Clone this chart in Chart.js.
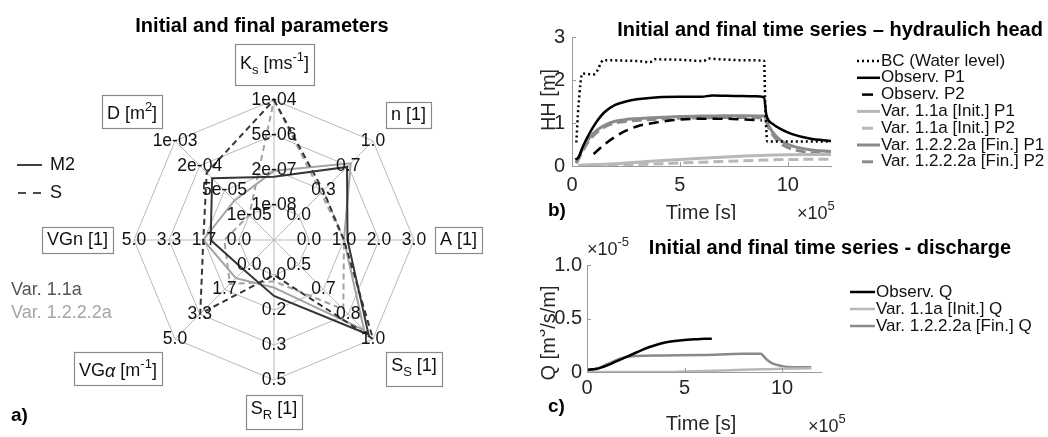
<!DOCTYPE html>
<html>
<head>
<meta charset="utf-8">
<script src="https://cdn.jsdelivr.net/npm/chart.js@4.4.1/dist/chart.umd.min.js"></script>
<style>
  html, body { margin: 0; padding: 0; background: #fff; }
  body { width: 1048px; height: 437px; position: relative; overflow: hidden; }
  canvas { position: absolute; }
  #radar { left: 0; top: 0; }
  #head { left: 540px; top: 0; }
  #flow { left: 540px; top: 220px; }
</style>
</head>
<body>
<canvas id="radar" width="540" height="437"></canvas>
<canvas id="head" width="508" height="220"></canvas>
<canvas id="flow" width="508" height="217"></canvas>
<script>
const FONT = '"Liberation Sans", Arial, Helvetica, sans-serif';
const TXT = "#262626";

// ---- parameter star: axes clockwise from the top ----
const axisTitles = [
  [["K", ""], ["s", "sub"], [" [ms", ""], ["-1", "sup"], ["]", ""]],
  [["n [1]", ""]],
  [["A [1]", ""]],
  [["S", ""], ["S", "sub"], [" [1]", ""]],
  [["S", ""], ["R", "sub"], [" [1]", ""]],
  [["VG", ""], ["α", "it"], [" [m", ""], ["-1", "sup"], ["]", ""]],
  [["VGn [1]", ""]],
  [["D [m", ""], ["2", "sup"], ["]", ""]],
];
const axisMin = [1e-8, 0, 0, 0.5, 0, 0, 0, 1e-5];
const axisMax = [1e-4, 1, 3, 1, 0.5, 5, 5, 1e-3];
const axisLog = [true, false, false, false, false, false, false, true];
const axisTicks = [
  ["1e-08", "2e-07", "5e-06", "1e-04"],
  ["0.0", "0.3", "0.7", "1.0"],
  ["0.0", "1.0", "2.0", "3.0"],
  ["0.5", "0.7", "0.8", "1.0"],
  ["0.0", "0.2", "0.3", "0.5"],
  ["0.0", "1.7", "3.3", "5.0"],
  ["0.0", "1.7", "3.3", "5.0"],
  ["1e-05", "5e-05", "2e-04", "1e-03"],
];

// parameter sets: Ks, n, A, S_S, S_R, VG alpha, VG n, D
const m2Init = [1.2e-7, 0.65, 1.1, 0.97, 0.1, 0.35, 1.35, 1e-4];
const m2Fin = [2e-7, 0.7, 1.0, 0.94, 0.06, 0.9, 1.7, 2.5e-5];
const sInit = [1e-4, 0.33, 1.0, 1.0, 0.0, 3.3, 1.7, 1.4e-4];
const sFin = [1e-4, 0.3, 1.0, 0.8, 0.03, 1.3, 0.7, 1e-5];

// ---- hydraulic head (time in 1e5 s, head in m) ----
const headXTicks = [0, 5, 10];
const headYTicks = [0, 1, 2, 3];
const bcT = [0.2, 0.3, 0.48, 1.0, 1.15, 1.45, 2.5, 3.3, 3.6, 3.85, 5.0, 6.1, 6.3, 6.6, 8.0, 8.9, 8.95, 9.05, 10.5, 12.0];
const bcH = [0.55, 1.4, 2.15, 2.13, 2.2, 2.46, 2.45, 2.43, 2.41, 2.48, 2.47, 2.44, 2.5, 2.49, 2.46, 2.45, 1.5, 0.57, 0.57, 0.57];
const obsP1T = [0.15, 0.3, 0.5, 0.8, 1.1, 1.5, 2.0, 2.5, 3.0, 4.0, 5.0, 6.0, 6.5, 7.5, 8.5, 8.9, 9.0, 9.3, 9.7, 10.2, 11.0, 12.0];
const obsP1H = [0.15, 0.2, 0.45, 0.75, 1.0, 1.25, 1.42, 1.5, 1.55, 1.6, 1.61, 1.61, 1.64, 1.63, 1.62, 1.6, 1.2, 0.98, 0.85, 0.74, 0.64, 0.58];
const obsP2T = [1.0, 1.5, 2.0, 2.5, 3.0, 4.0, 5.0, 6.0, 7.0, 8.0, 8.8];
const obsP2H = [0.28, 0.5, 0.68, 0.82, 0.92, 1.02, 1.08, 1.1, 1.1, 1.08, 1.06];
const initT = [0.3, 2.0, 4.0, 6.0, 8.0, 9.0, 10.0, 12.0];
const initP1H = [0.02, 0.05, 0.12, 0.18, 0.23, 0.25, 0.26, 0.27];
const initP2H = [0.0, 0.02, 0.05, 0.09, 0.12, 0.14, 0.15, 0.16];
const finT = [0.2, 0.5, 0.8, 1.2, 1.6, 2.0, 2.5, 3.0, 4.0, 5.0, 6.0, 7.0, 8.0, 8.9, 9.1, 9.4, 9.8, 10.3, 11.0, 12.0];
const finP1H = [0.08, 0.4, 0.65, 0.85, 0.97, 1.04, 1.08, 1.1, 1.13, 1.15, 1.16, 1.17, 1.17, 1.16, 0.95, 0.72, 0.55, 0.45, 0.38, 0.34];
const finP2H = [0.06, 0.35, 0.6, 0.8, 0.93, 1.0, 1.04, 1.06, 1.09, 1.11, 1.12, 1.13, 1.13, 1.12, 0.9, 0.66, 0.48, 0.38, 0.31, 0.27];

// ---- discharge (time in 1e5 s, Q in 1e-5 m3/s/m) ----
const flowXTicks = [0, 5, 10];
const flowYTicks = [0, 0.5, 1];
const obsQT = [0, 0.5, 1.0, 1.5, 2.0, 2.5, 3.0, 3.5, 4.0, 4.5, 5.0, 5.5, 6.0, 6.4];
const obsQ = [0.02, 0.03, 0.06, 0.1, 0.14, 0.18, 0.22, 0.25, 0.275, 0.29, 0.3, 0.305, 0.31, 0.31];
const initQT = [0, 2.0, 4.0, 5.0, 6.0, 8.0, 9.0, 10.0, 11.5];
const initQ = [0.0, 0.0, 0.0, 0.005, 0.01, 0.02, 0.025, 0.03, 0.035];
const finQT = [0, 0.5, 1.0, 1.5, 2.0, 2.5, 4.0, 6.0, 8.0, 8.9, 9.2, 9.5, 10.0, 10.5, 11.5];
const finQ = [0.02, 0.03, 0.07, 0.11, 0.14, 0.15, 0.155, 0.16, 0.17, 0.17, 0.12, 0.08, 0.055, 0.045, 0.045];

const DARK = "#363636";
const LIGHT = "#a2a2a2";
const INIT_GRAY = "#b8b8b8";
const FIN_GRAY = "#8a8a8a";
const GRID = "#b9b9b9";

// ---- text helpers (sub/superscripts, italic greek) ----
function partFont(mode, size, weight) {
  const s = (mode === "sup" || mode === "sub") ? Math.round(size * 0.74) : size;
  const style = mode === "it" ? "italic " : "";
  return style + weight + " " + s + "px " + FONT;
}
function measureRich(ctx, parts, size, weight) {
  let w = 0;
  for (const [t, m] of parts) { ctx.font = partFont(m, size, weight); w += ctx.measureText(t).width; }
  return w;
}
function drawRich(ctx, parts, x, y, size, opts = {}) {
  const weight = opts.weight || "normal";
  const w = measureRich(ctx, parts, size, weight);
  let cx = opts.align === "left" ? x : opts.align === "right" ? x - w : x - w / 2;
  ctx.fillStyle = opts.color || "#000";
  ctx.textBaseline = "middle";
  ctx.textAlign = "left";
  for (const [t, m] of parts) {
    ctx.font = partFont(m, size, weight);
    const dy = m === "sup" ? -size * 0.4 : m === "sub" ? size * 0.34 : 0;
    ctx.fillText(t, cx, y + dy);
    cx += ctx.measureText(t).width;
  }
  return w;
}
function pairs(xs, ys) { return xs.map((x, i) => ({ x: x, y: ys[i] })); }

// map a parameter value onto rings 1..4 of its own axis
function toRing(v, i) {
  const f = axisLog[i] ? Math.log10 : (a) => a;
  return 1 + 3 * (f(v) - f(axisMin[i])) / (f(axisMax[i]) - f(axisMin[i]));
}
function ringData(vals) { return vals.map((v, i) => toRing(v, i)); }

// ---- star chart decorations ----
const boxPad = [15, 18, 21, 18, 15, 18, 21, 18];
const dirX = [0, 1, 1, 1, 0, -1, -1, -1];
const dirY = [-1, -1, 0, 1, 1, 1, 0, -1];

const starDecor = {
  id: "starDecor",
  afterDatasetsDraw(chart) {
    const ctx = chart.ctx;
    const r = chart.scales.r;
    ctx.save();
    // per-axis tick labels sit on the ring corners
    ctx.font = "17.5px " + FONT;
    ctx.fillStyle = "#111";
    ctx.textAlign = "center";
    ctx.textBaseline = "middle";
    axisTicks.forEach((labels, i) => {
      labels.forEach((lab, k) => {
        const p = r.getPointPositionForValue(i, k + 1);
        ctx.fillText(lab, p.x, p.y);
      });
    });
    // boxed axis names
    axisTitles.forEach((parts, i) => {
      const hasSup = parts.some(p => p[1] === "sup");
      const hasSub = parts.some(p => p[1] === "sub");
      const tw = measureRich(ctx, parts, 18, "normal");
      const bw = Math.round(tw + 10);
      const bh = 26 + (hasSup ? 7 : 0) + (hasSub ? 8 : 0);
      const p = r.getPointPosition(i, r.drawingArea + boxPad[i]);
      const bx = Math.round(dirX[i] === 0 ? p.x - bw / 2 : dirX[i] > 0 ? p.x : p.x - bw);
      const by = Math.round(dirY[i] === 0 ? p.y - bh / 2 : dirY[i] > 0 ? p.y : p.y - bh);
      ctx.fillStyle = "#fff";
      ctx.fillRect(bx, by, bw, bh);
      ctx.strokeStyle = "#8a8a8a";
      ctx.lineWidth = 1.2;
      ctx.strokeRect(bx + 0.5, by + 0.5, bw, bh);
      const ty = by + bh / 2 + (hasSup ? 3 : 0) - (hasSub ? 3 : 0);
      drawRich(ctx, parts, bx + bw / 2, ty, 18, { color: "#111" });
    });
    // title
    ctx.font = "bold 20px " + FONT;
    ctx.fillStyle = "#000";
    ctx.textAlign = "center";
    ctx.fillText("Initial and final parameters", 262, 26);
    // line style key
    ctx.strokeStyle = "#111";
    ctx.lineWidth = 1.6;
    ctx.beginPath(); ctx.moveTo(17, 165); ctx.lineTo(42, 165); ctx.stroke();
    ctx.beginPath(); ctx.moveTo(18, 193); ctx.lineTo(26, 193); ctx.moveTo(33, 193); ctx.lineTo(41, 193); ctx.stroke();
    ctx.font = "18px " + FONT;
    ctx.textAlign = "left";
    ctx.fillStyle = "#111";
    ctx.fillText("M2", 50, 165);
    ctx.fillText("S", 50, 193);
    // colour key
    ctx.fillStyle = "#555";
    ctx.fillText("Var. 1.1a", 11, 290);
    ctx.fillStyle = "#a5a5a5";
    ctx.fillText("Var. 1.2.2.2a", 11, 313);
    ctx.font = "bold 19px " + FONT;
    ctx.fillStyle = "#000";
    ctx.fillText("a)", 11, 416);
    ctx.restore();
  }
};

new Chart(document.getElementById("radar"), {
  type: "radar",
  data: {
    labels: ["Ks", "n", "A", "SS", "SR", "VGalpha", "VGn", "D"],
    datasets: [
      { label: "M2 Var. 1.1a", data: ringData(m2Init), borderColor: DARK, borderWidth: 2, fill: false, pointRadius: 0 },
      { label: "S Var. 1.1a", data: ringData(sInit), borderColor: DARK, borderWidth: 2, borderDash: [6, 4], fill: false, pointRadius: 0 },
      { label: "M2 Var. 1.2.2.2a", data: ringData(m2Fin), borderColor: LIGHT, borderWidth: 2, fill: false, pointRadius: 0 },
      { label: "S Var. 1.2.2.2a", data: ringData(sFin), borderColor: LIGHT, borderWidth: 2, borderDash: [6, 4], fill: false, pointRadius: 0 },
    ],
  },
  options: {
    responsive: false,
    animation: false,
    layout: { padding: { left: 134, right: 126, top: 100, bottom: 57 } },
    plugins: { legend: { display: false }, tooltip: { enabled: false } },
    elements: { line: { tension: 0 } },
    scales: {
      r: {
        min: 0,
        max: 4,
        ticks: { display: false, stepSize: 1 },
        pointLabels: { display: false },
        grid: { circular: false, color: GRID, lineWidth: 1 },
        angleLines: { color: GRID, lineWidth: 1 },
      },
    },
  },
  plugins: [starDecor],
});

// ---- shared pieces for the two time-series panels ----
const innerTicks = {
  id: "innerTicks",
  afterDraw(chart) {
    const { ctx, chartArea: a, scales: { x, y } } = chart;
    ctx.save();
    ctx.strokeStyle = "#999";
    ctx.lineWidth = 1;
    ctx.beginPath();
    x.ticks.forEach(t => {
      const px = Math.round(x.getPixelForValue(t.value)) + 0.5;
      ctx.moveTo(px, a.bottom); ctx.lineTo(px, a.bottom - 4);
    });
    y.ticks.forEach(t => {
      const py = Math.round(y.getPixelForValue(t.value)) + 0.5;
      ctx.moveTo(a.left, py); ctx.lineTo(a.left + 4, py);
    });
    ctx.stroke();
    ctx.restore();
  }
};

function legendBlock(ctx, datasets, x0, x1, y0, step) {
  ctx.font = "17px " + FONT;
  ctx.textAlign = "left";
  ctx.textBaseline = "middle";
  datasets.forEach((ds, i) => {
    const y = y0 + i * step;
    ctx.strokeStyle = ds.borderColor;
    ctx.lineWidth = ds.borderWidth;
    const dash = ds.borderDash || [];
    ctx.beginPath();
    if (dash.length && dash[0] > 4) {
      ctx.setLineDash([]);
      ctx.moveTo(x0 + 5, y); ctx.lineTo(x0 + 16, y);
    } else {
      ctx.setLineDash(dash);
      ctx.moveTo(x0, y); ctx.lineTo(x1, y);
    }
    ctx.stroke();
    ctx.setLineDash([]);
    ctx.fillStyle = "#111";
    ctx.fillText(ds.label, x1 + 1, y);
  });
}

function axisOpts(min, max, tickVals, fitSize, isX, pad) {
  return {
    type: "linear",
    min: min,
    max: max,
    afterBuildTicks: s => { s.ticks = tickVals.map(v => ({ value: v })); },
    afterFit: s => { if (isX) s.height = fitSize; else s.width = fitSize; },
    grid: { display: false, drawTicks: false },
    border: { display: true, color: "#9a9a9a", width: 1 },
    ticks: { color: TXT, font: { size: 20, family: FONT }, padding: pad, maxRotation: 0 },
  };
}

// ---- hydraulic head panel ----
const headDecor = {
  id: "headDecor",
  afterDraw(chart) {
    const ctx = chart.ctx;
    ctx.save();
    ctx.font = "bold 20px " + FONT;
    ctx.fillStyle = "#000";
    ctx.textAlign = "center";
    ctx.textBaseline = "middle";
    ctx.fillText("Initial and final time series \u2013 hydraulich head", 290, 30);
    legendBlock(ctx, chart.data.datasets, 317, 340, 61, 16.8);
    ctx.save();
    ctx.translate(9, 100);
    ctx.rotate(-Math.PI / 2);
    drawRich(ctx, [["HH [m]", ""]], 0, 0, 20, { color: TXT });
    ctx.restore();
    drawRich(ctx, [["Time [s]", ""]], 161, 213, 20, { color: TXT });
    drawRich(ctx, [["\u00d710", ""], ["5", "sup"]], 257, 214, 18, { color: TXT, align: "left" });
    drawRich(ctx, [["b)", ""]], 8, 211, 19, { weight: "bold", align: "left" });
    ctx.restore();
  }
};

new Chart(document.getElementById("head"), {
  type: "line",
  data: {
    datasets: [
      { label: "BC (Water level)", data: pairs(bcT, bcH), borderColor: "#000", borderWidth: 2.5, borderDash: [2, 3], tension: 0 },
      { label: "Observ. P1", data: pairs(obsP1T, obsP1H), borderColor: "#000", borderWidth: 2.5 },
      { label: "Observ. P2", data: pairs(obsP2T, obsP2H), borderColor: "#000", borderWidth: 2.5, borderDash: [10, 6] },
      { label: "Var. 1.1a [Init.] P1", data: pairs(initT, initP1H), borderColor: INIT_GRAY, borderWidth: 3 },
      { label: "Var. 1.1a [Init.] P2", data: pairs(initT, initP2H), borderColor: INIT_GRAY, borderWidth: 3, borderDash: [10, 5] },
      { label: "Var. 1.2.2.2a [Fin.] P1", data: pairs(finT, finP1H), borderColor: FIN_GRAY, borderWidth: 3 },
      { label: "Var. 1.2.2.2a [Fin.] P2", data: pairs(finT, finP2H), borderColor: FIN_GRAY, borderWidth: 3, borderDash: [10, 5] },
    ],
  },
  options: {
    responsive: false,
    animation: false,
    layout: { padding: { left: 2, right: 217, top: 37, bottom: 24 } },
    plugins: { legend: { display: false }, tooltip: { enabled: false } },
    elements: { point: { radius: 0 }, line: { cubicInterpolationMode: "monotone", fill: false, borderCapStyle: "butt" } },
    scales: {
      x: axisOpts(0, 12, headXTicks, 30, true, 7),
      y: axisOpts(0, 3, headYTicks, 30, false, 7),
    },
  },
  plugins: [innerTicks, headDecor],
});

// ---- discharge panel ----
const flowDecor = {
  id: "flowDecor",
  afterDraw(chart) {
    const ctx = chart.ctx;
    ctx.save();
    ctx.font = "bold 20px " + FONT;
    ctx.fillStyle = "#000";
    ctx.textAlign = "center";
    ctx.textBaseline = "middle";
    ctx.fillText("Initial and final time series - discharge", 290, 28);
    drawRich(ctx, [["\u00d710", ""], ["-5", "sup"]], 47, 30, 18, { color: TXT, align: "left" });
    legendBlock(ctx, chart.data.datasets, 310, 335, 72, 17);
    ctx.save();
    ctx.translate(9, 113);
    ctx.rotate(-Math.PI / 2);
    drawRich(ctx, [["Q [m", ""], ["3", "sup"], ["/s/m]", ""]], 0, 0, 20, { color: TXT });
    ctx.restore();
    drawRich(ctx, [["Time [s]", ""]], 161, 204, 20, { color: TXT });
    drawRich(ctx, [["\u00d710", ""], ["5", "sup"]], 268, 207, 18, { color: TXT, align: "left" });
    drawRich(ctx, [["c)", ""]], 8, 187, 19, { weight: "bold", align: "left" });
    ctx.restore();
  }
};

new Chart(document.getElementById("flow"), {
  type: "line",
  data: {
    datasets: [
      { label: "Observ. Q", data: pairs(obsQT, obsQ), borderColor: "#000", borderWidth: 2.5 },
      { label: "Var. 1.1a [Init.] Q", data: pairs(initQT, initQ), borderColor: INIT_GRAY, borderWidth: 2.5 },
      { label: "Var. 1.2.2.2a [Fin.] Q", data: pairs(finQT, finQ), borderColor: FIN_GRAY, borderWidth: 2.5 },
    ],
  },
  options: {
    responsive: false,
    animation: false,
    layout: { padding: { left: 2, right: 227, top: 45, bottom: 35 } },
    plugins: { legend: { display: false }, tooltip: { enabled: false } },
    elements: { point: { radius: 0 }, line: { cubicInterpolationMode: "monotone", fill: false } },
    scales: {
      x: axisOpts(0, 12, flowXTicks, 30, true, 4),
      y: axisOpts(0, 1, flowYTicks, 45, false, 5),
    },
  },
  plugins: [innerTicks, flowDecor],
});
</script>
</body>
</html>
